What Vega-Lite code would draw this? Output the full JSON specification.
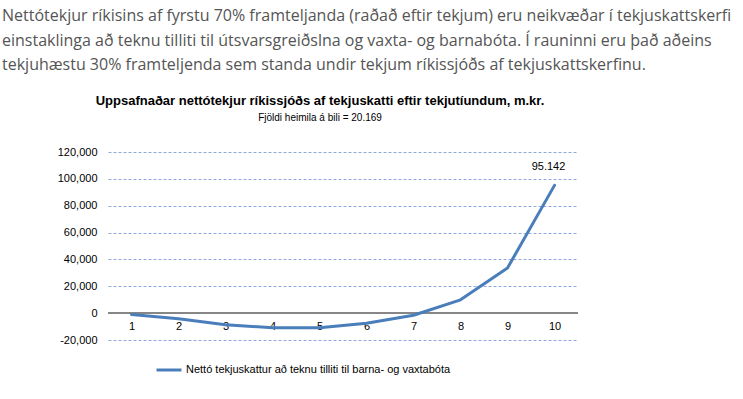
{
  "$schema": "https://vega.github.io/schema/vega-lite/v6.json",
  "background": "white",
  "padding": {"left": 2, "top": 8, "right": 5, "bottom": 5},
  "title": {
    "text": [
      "Nettótekjur ríkisins af fyrstu 70% framteljanda (raðað eftir tekjum) eru neikvæðar í tekjuskattskerfi",
      "einstaklinga að teknu tilliti til útsvarsgreiðslna og vaxta- og barnabóta. Í rauninni eru það aðeins",
      "tekjuhæstu 30% framteljenda sem standa undir tekjum ríkissjóðs af tekjuskattskerfinu."
    ],
    "anchor": "start",
    "frame": "bounds",
    "font": "Open Sans",
    "fontSize": 16,
    "fontWeight": "normal",
    "color": "#555555",
    "lineHeight": 24.5,
    "offset": 22
  },
  "config": {
    "view": {"stroke": null},
    "axisY": {
      "values": [-20000, 0, 20000, 40000, 60000, 80000, 100000, 120000],
      "labelExpr": "replace(format(datum.value, ','), '−', '-')",
      "labelOverlap": false,
      "domain": false,
      "ticks": false,
      "grid": true,
      "gridDash": [3, 2],
      "gridColor": "#8eaadb",
      "gridWidth": 1,
      "labelPadding": 11,
      "labelFont": "Liberation Sans",
      "labelFontSize": 11,
      "labelColor": "#000000",
      "minExtent": 106,
      "maxExtent": 106,
      "title": null
    }
  },
  "vconcat": [
    {
      "width": 470,
      "height": 188,
      "title": {
        "text": "Uppsafnaðar nettótekjur ríkissjóðs af tekjuskatti eftir tekjutíundum,  m.kr.",
        "subtitle": "Fjöldi heimila á bili = 20.169",
        "anchor": "middle",
        "frame": "group",
        "dx": -23,
        "font": "Liberation Sans",
        "fontSize": 13,
        "fontWeight": "bold",
        "color": "#000000",
        "subtitleFont": "Liberation Sans",
        "subtitleFontSize": 10,
        "subtitleColor": "#000000",
        "subtitlePadding": 5,
        "offset": 23
      },
      "data": {
        "values": [
          {"tiund": 1, "value": -1000, "label": ""},
          {"tiund": 2, "value": -4100, "label": ""},
          {"tiund": 3, "value": -8700, "label": ""},
          {"tiund": 4, "value": -10900, "label": ""},
          {"tiund": 5, "value": -10900, "label": ""},
          {"tiund": 6, "value": -7600, "label": ""},
          {"tiund": 7, "value": -1600, "label": ""},
          {"tiund": 8, "value": 9900, "label": ""},
          {"tiund": 9, "value": 33600, "label": ""},
          {"tiund": 10, "value": 95142, "label": "95.142"}
        ]
      },
      "layer": [
        {
          "mark": {"type": "rule", "color": "#868686", "strokeWidth": 1},
          "encoding": {
            "y": {
              "datum": 0,
              "type": "quantitative",
              "scale": {"domain": [-20000, 120000], "nice": false}
            }
          }
        },
        {
          "mark": {"type": "line", "strokeWidth": 3, "strokeCap": "round", "strokeJoin": "round"},
          "encoding": {
            "x": {
              "field": "tiund",
              "type": "ordinal",
              "axis": {
                "orient": "bottom",
                "offset": -27,
                "domain": false,
                "ticks": false,
                "grid": false,
                "labelAngle": 0,
                "labelPadding": 7,
                "labelFont": "Liberation Sans",
                "labelFontSize": 11,
                "labelColor": "#000000",
                "title": null
              }
            },
            "y": {
              "field": "value",
              "type": "quantitative"
            },
            "color": {
              "datum": "Nettó tekjuskattur að teknu tilliti til barna- og vaxtabóta",
              "type": "nominal",
              "scale": {"range": ["#4a7ebb"]},
              "legend": {
                "orient": "none",
                "legendX": 47,
                "legendY": 204,
                "title": null,
                "symbolType": "stroke",
                "symbolSize": 625,
                "symbolStrokeWidth": 3,
                "labelFont": "Liberation Sans",
                "labelFontSize": 11,
                "labelColor": "#000000",
                "labelOffset": 3,
                "labelLimit": 600
              }
            }
          }
        },
        {
          "transform": [{"filter": "datum.tiund == 10"}],
          "mark": {"type": "text", "dx": -6, "dy": -18, "font": "Liberation Sans", "fontSize": 11, "color": "#000000"},
          "encoding": {
            "x": {"field": "tiund", "type": "ordinal"},
            "y": {"field": "value", "type": "quantitative"},
            "text": {"field": "label"}
          }
        }
      ]
    }
  ]
}
